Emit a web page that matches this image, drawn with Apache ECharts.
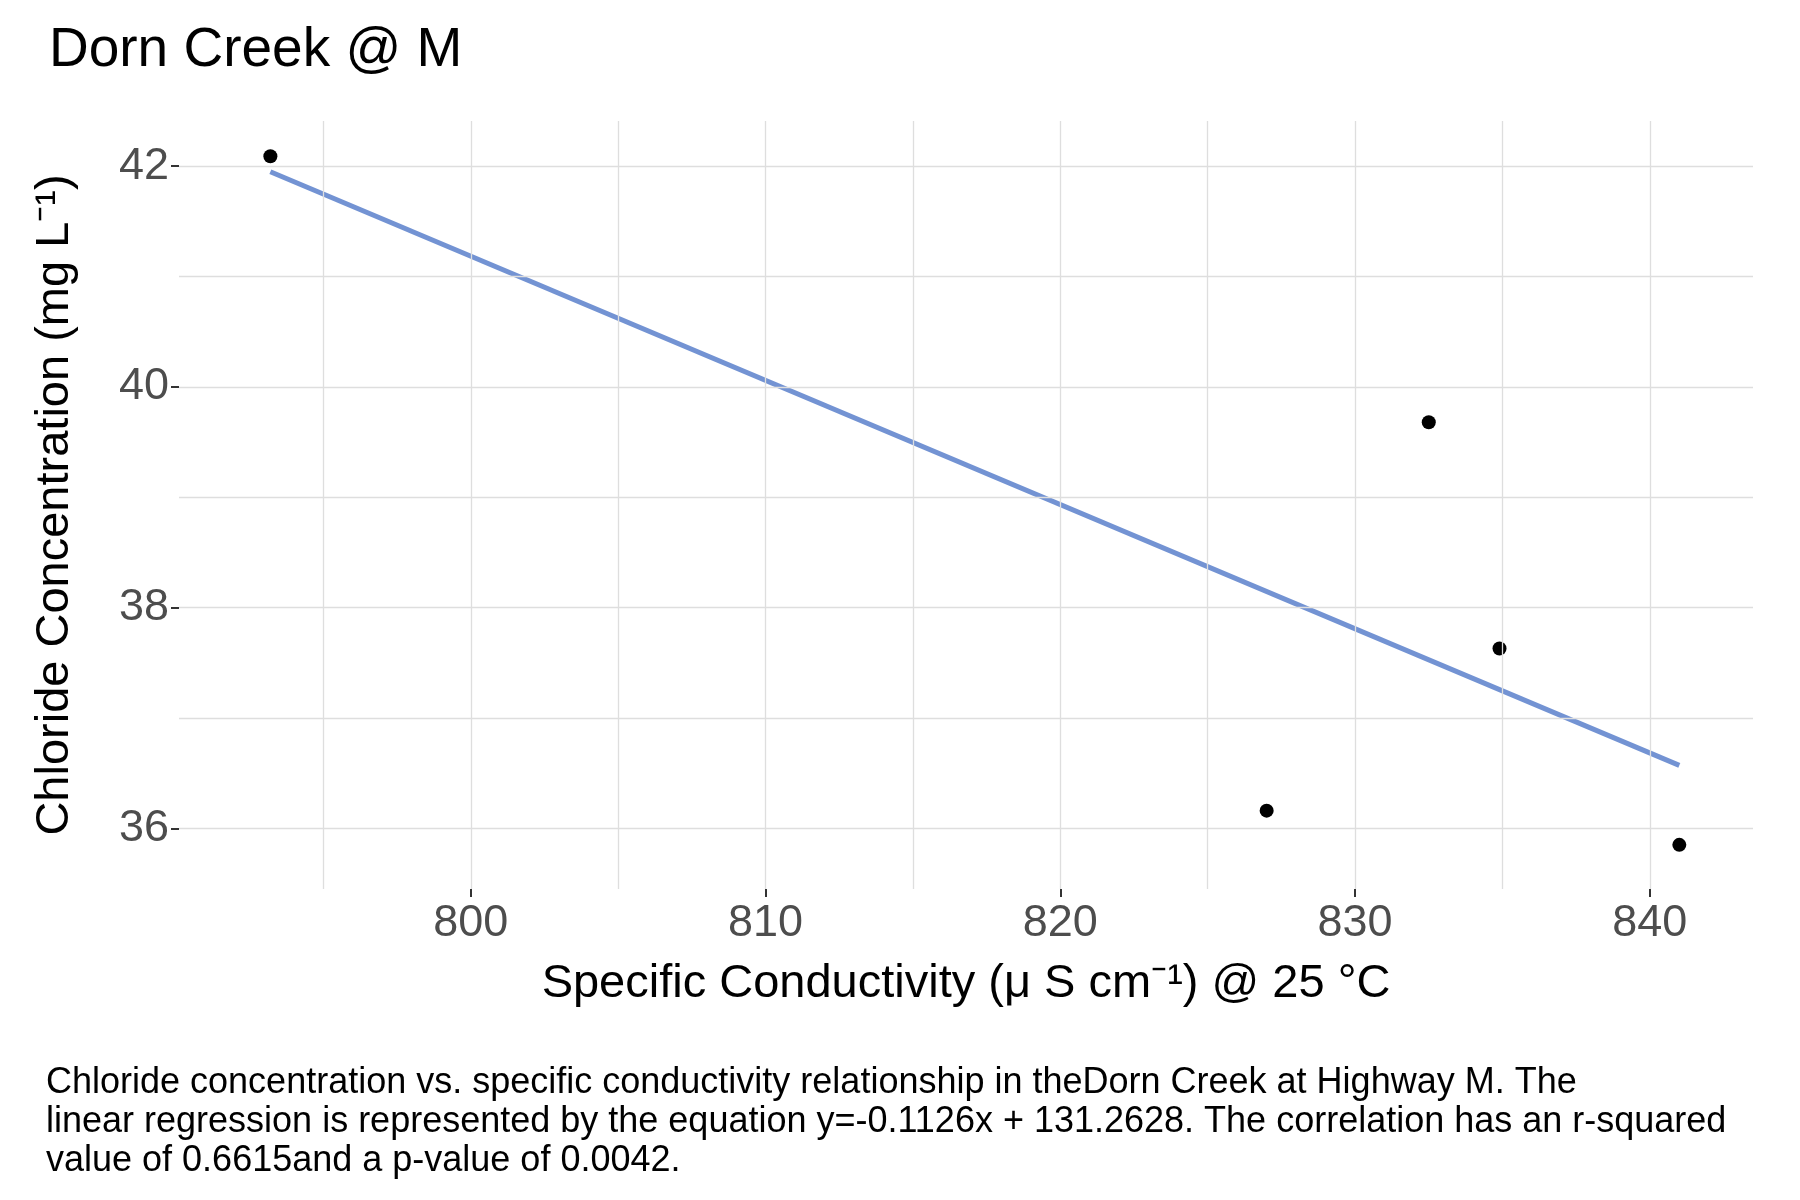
<!DOCTYPE html>
<html><head><meta charset="utf-8">
<script src="https://cdn.jsdelivr.net/npm/echarts@6/dist/echarts.min.js"></script>
<style>html,body{margin:0;padding:0;background:#fff}#c{width:1800px;height:1200px}</style>
</head><body><div id="c"></div>
<script>
const conductivity = [793.2, 827.0, 832.5, 834.9, 841.0];
const chloride = [42.09, 36.16, 39.68, 37.63, 35.85];
const fitX = [793.2, 841.0];
const fitY = [41.95, 36.57];
const xTicks = [800, 810, 820, 830, 840];
const yTicks = [36, 38, 40, 42];
const xGrid = [795, 800, 805, 810, 815, 820, 825, 830, 835, 840];
const yGrid = [36, 37, 38, 39, 40, 41, 42];
const caption = "Chloride concentration vs. specific conductivity relationship in theDorn Creek at Highway M. The\nlinear regression is represented by the equation y=-0.1126x + 131.2628. The correlation has an r-squared\nvalue of 0.6615and a p-value of 0.0042.";

const F = 'Arial, "Liberation Sans", sans-serif';
const gl = {color:'#dedede', width:1.3, type:'solid'};
const chart = echarts.init(document.getElementById('c'));
chart.setOption({
  animation:false,
  title:{text:'Dorn Creek @ M', left:44, top:18, textStyle:{fontFamily:F, fontSize:55, fontWeight:'normal', color:'#000'}},
  graphic:[{type:'text', left:46, top:1064, style:{text:caption, fontFamily:F, fontSize:36, lineHeight:39, fill:'#000'}}],
  grid:{left:179, right:47, top:121, bottom:311},
  xAxis:{type:'value', min:790.1, max:843.5,
    name:'Specific Conductivity (μ S cm⁻¹) @ 25 °C', nameLocation:'middle', nameGap:72,
    nameTextStyle:{fontFamily:F, fontSize:47, color:'#000'},
    axisLine:{show:false}, splitLine:{show:false},
    axisTick:{show:true, length:8, customValues:xTicks, lineStyle:{color:'#333', width:2}},
    axisLabel:{customValues:xTicks, fontFamily:F, fontSize:45, color:'#4d4d4d', margin:12}},
  yAxis:{type:'value', min:35.45, max:42.41,
    name:'Chloride Concentration (mg L⁻¹)', nameLocation:'middle', nameGap:100,
    nameTextStyle:{fontFamily:F, fontSize:47, color:'#000'},
    axisLine:{show:false}, splitLine:{show:false},
    axisTick:{show:true, length:8, customValues:yTicks, lineStyle:{color:'#333', width:2}},
    axisLabel:{customValues:yTicks, fontFamily:F, fontSize:45, color:'#4d4d4d', margin:10}},
  series:[
    {type:'line', data:[], silent:true, markLine:{silent:true, symbol:'none', label:{show:false}, lineStyle:gl,
      data:xGrid.map(v=>({xAxis:v})).concat(yGrid.map(v=>({yAxis:v})))}},
    {type:'line', data:fitX.map((x,i)=>[x,fitY[i]]), symbol:'none', lineStyle:{color:'#7393d3', width:5}, z:3},
    {type:'scatter', data:conductivity.map((x,i)=>[x,chloride[i]]), symbolSize:14, itemStyle:{color:'#000', opacity:1}, z:4}
  ]
});
</script></body></html>
